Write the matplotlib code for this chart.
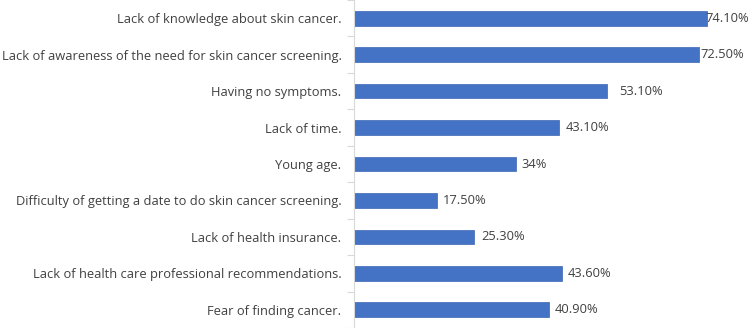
import matplotlib
matplotlib.use("Agg")
import matplotlib.pyplot as plt

categories = [
    "Lack of knowledge about skin cancer.",
    "Lack of awareness of the need for skin cancer screening.",
    "Having no symptoms.",
    "Lack of time.",
    "Young age.",
    "Difficulty of getting a date to do skin cancer screening.",
    "Lack of health insurance.",
    "Lack of health care professional recommendations.",
    "Fear of finding cancer.",
]
values = [74.10, 72.50, 53.10, 43.10, 34, 17.50, 25.30, 43.60, 40.90]
value_labels = ["74.10%", "72.50%", "53.10%", "43.10%", "34%", "17.50%", "25.30%", "43.60%", "40.90%"]

# label offsets from bar end, in pixels (as placed in the original)
label_offsets = [-2, 1, 12, 6, 6, 6, 7, 6, 6]

plt.rcParams['font.family'] = ['Open Sans', 'DejaVu Sans']
text_color = "#404040"
fs = 9.3

fig = plt.figure(figsize=(7.5, 3.28), dpi=100)
ax = fig.add_axes([354/750, 0.0, 381/750, 1.0])

n = len(categories)
ypos = list(range(n))
ax.barh(ypos, values, height=0.4, color="#4472C4", edgecolor="#3A65B5", linewidth=0.5)
ax.set_ylim(n - 0.5, -0.5)
ax.set_xlim(0, 80)

for y, v, lab, off in zip(ypos, values, value_labels, label_offsets):
    ax.annotate(lab, (v, y), xytext=(off, 0), textcoords="offset pixels",
                va="center", ha="left", fontsize=fs, color=text_color,
                annotation_clip=False)

ax.set_yticks(ypos)
ax.set_yticklabels(categories, fontsize=fs, color=text_color)
ax.tick_params(axis="y", length=0, pad=9)
ax.set_yticks([i - 0.5 for i in range(n + 1)], minor=True)
ax.tick_params(axis="y", which="minor", length=5, color="#D9D9D9", width=0.8)
ax.set_xticks([])

for s in ["top", "right", "bottom"]:
    ax.spines[s].set_visible(False)
ax.spines["left"].set_color("#D9D9D9")
ax.spines["left"].set_linewidth(0.8)

fig.savefig("out.png", dpi=100)
